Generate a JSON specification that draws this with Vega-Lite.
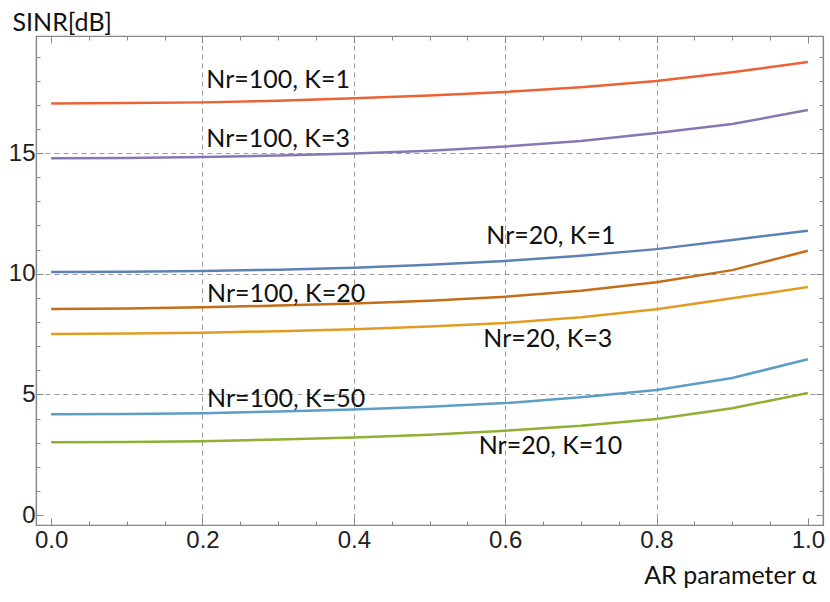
{
  "$schema": "https://vega.github.io/schema/vega-lite/v6.json",
  "description": "SINR versus AR parameter for several Nr and K settings.",
  "width": 787,
  "height": 489,
  "autosize": {"type": "none"},
  "padding": {"left": 36, "top": 36, "right": 7, "bottom": 77},
  "background": "white",
  "datasets": {
    "curves": [
      {"series": "Nr=100, K=1", "alpha": 0.0, "sinr": 17.05},
      {"series": "Nr=100, K=1", "alpha": 0.1, "sinr": 17.07},
      {"series": "Nr=100, K=1", "alpha": 0.2, "sinr": 17.1},
      {"series": "Nr=100, K=1", "alpha": 0.3, "sinr": 17.17},
      {"series": "Nr=100, K=1", "alpha": 0.4, "sinr": 17.27},
      {"series": "Nr=100, K=1", "alpha": 0.5, "sinr": 17.38},
      {"series": "Nr=100, K=1", "alpha": 0.6, "sinr": 17.53},
      {"series": "Nr=100, K=1", "alpha": 0.7, "sinr": 17.73},
      {"series": "Nr=100, K=1", "alpha": 0.8, "sinr": 17.99},
      {"series": "Nr=100, K=1", "alpha": 0.9, "sinr": 18.35},
      {"series": "Nr=100, K=1", "alpha": 1.0, "sinr": 18.77},
      {"series": "Nr=100, K=3", "alpha": 0.0, "sinr": 14.78},
      {"series": "Nr=100, K=3", "alpha": 0.1, "sinr": 14.8},
      {"series": "Nr=100, K=3", "alpha": 0.2, "sinr": 14.84},
      {"series": "Nr=100, K=3", "alpha": 0.3, "sinr": 14.9},
      {"series": "Nr=100, K=3", "alpha": 0.4, "sinr": 14.98},
      {"series": "Nr=100, K=3", "alpha": 0.5, "sinr": 15.1},
      {"series": "Nr=100, K=3", "alpha": 0.6, "sinr": 15.27},
      {"series": "Nr=100, K=3", "alpha": 0.7, "sinr": 15.5},
      {"series": "Nr=100, K=3", "alpha": 0.8, "sinr": 15.83},
      {"series": "Nr=100, K=3", "alpha": 0.9, "sinr": 16.2},
      {"series": "Nr=100, K=3", "alpha": 1.0, "sinr": 16.78},
      {"series": "Nr=20, K=1", "alpha": 0.0, "sinr": 10.07},
      {"series": "Nr=20, K=1", "alpha": 0.1, "sinr": 10.08},
      {"series": "Nr=20, K=1", "alpha": 0.2, "sinr": 10.11},
      {"series": "Nr=20, K=1", "alpha": 0.3, "sinr": 10.17},
      {"series": "Nr=20, K=1", "alpha": 0.4, "sinr": 10.25},
      {"series": "Nr=20, K=1", "alpha": 0.5, "sinr": 10.37},
      {"series": "Nr=20, K=1", "alpha": 0.6, "sinr": 10.53},
      {"series": "Nr=20, K=1", "alpha": 0.7, "sinr": 10.75},
      {"series": "Nr=20, K=1", "alpha": 0.8, "sinr": 11.02},
      {"series": "Nr=20, K=1", "alpha": 0.9, "sinr": 11.4},
      {"series": "Nr=20, K=1", "alpha": 1.0, "sinr": 11.78},
      {"series": "Nr=100, K=20", "alpha": 0.0, "sinr": 8.54},
      {"series": "Nr=100, K=20", "alpha": 0.1, "sinr": 8.56},
      {"series": "Nr=100, K=20", "alpha": 0.2, "sinr": 8.61},
      {"series": "Nr=100, K=20", "alpha": 0.3, "sinr": 8.68},
      {"series": "Nr=100, K=20", "alpha": 0.4, "sinr": 8.77},
      {"series": "Nr=100, K=20", "alpha": 0.5, "sinr": 8.88},
      {"series": "Nr=100, K=20", "alpha": 0.6, "sinr": 9.05},
      {"series": "Nr=100, K=20", "alpha": 0.7, "sinr": 9.3},
      {"series": "Nr=100, K=20", "alpha": 0.8, "sinr": 9.65},
      {"series": "Nr=100, K=20", "alpha": 0.9, "sinr": 10.15},
      {"series": "Nr=100, K=20", "alpha": 1.0, "sinr": 10.95},
      {"series": "Nr=20, K=3", "alpha": 0.0, "sinr": 7.5},
      {"series": "Nr=20, K=3", "alpha": 0.1, "sinr": 7.52},
      {"series": "Nr=20, K=3", "alpha": 0.2, "sinr": 7.56},
      {"series": "Nr=20, K=3", "alpha": 0.3, "sinr": 7.62},
      {"series": "Nr=20, K=3", "alpha": 0.4, "sinr": 7.7},
      {"series": "Nr=20, K=3", "alpha": 0.5, "sinr": 7.81},
      {"series": "Nr=20, K=3", "alpha": 0.6, "sinr": 7.96},
      {"series": "Nr=20, K=3", "alpha": 0.7, "sinr": 8.2},
      {"series": "Nr=20, K=3", "alpha": 0.8, "sinr": 8.53},
      {"series": "Nr=20, K=3", "alpha": 0.9, "sinr": 8.98},
      {"series": "Nr=20, K=3", "alpha": 1.0, "sinr": 9.45},
      {"series": "Nr=100, K=50", "alpha": 0.0, "sinr": 4.18},
      {"series": "Nr=100, K=50", "alpha": 0.1, "sinr": 4.19},
      {"series": "Nr=100, K=50", "alpha": 0.2, "sinr": 4.22},
      {"series": "Nr=100, K=50", "alpha": 0.3, "sinr": 4.29},
      {"series": "Nr=100, K=50", "alpha": 0.4, "sinr": 4.38},
      {"series": "Nr=100, K=50", "alpha": 0.5, "sinr": 4.49},
      {"series": "Nr=100, K=50", "alpha": 0.6, "sinr": 4.64},
      {"series": "Nr=100, K=50", "alpha": 0.7, "sinr": 4.88},
      {"series": "Nr=100, K=50", "alpha": 0.8, "sinr": 5.18},
      {"series": "Nr=100, K=50", "alpha": 0.9, "sinr": 5.68},
      {"series": "Nr=100, K=50", "alpha": 1.0, "sinr": 6.46},
      {"series": "Nr=20, K=10", "alpha": 0.0, "sinr": 3.02},
      {"series": "Nr=20, K=10", "alpha": 0.1, "sinr": 3.03},
      {"series": "Nr=20, K=10", "alpha": 0.2, "sinr": 3.06},
      {"series": "Nr=20, K=10", "alpha": 0.3, "sinr": 3.13},
      {"series": "Nr=20, K=10", "alpha": 0.4, "sinr": 3.22},
      {"series": "Nr=20, K=10", "alpha": 0.5, "sinr": 3.33},
      {"series": "Nr=20, K=10", "alpha": 0.6, "sinr": 3.5},
      {"series": "Nr=20, K=10", "alpha": 0.7, "sinr": 3.7},
      {"series": "Nr=20, K=10", "alpha": 0.8, "sinr": 3.98},
      {"series": "Nr=20, K=10", "alpha": 0.9, "sinr": 4.43},
      {"series": "Nr=20, K=10", "alpha": 1.0, "sinr": 5.06}
    ],
    "labels": [
      {"label": "Nr=100, K=1", "alpha": 0.205, "sinr": 17.7},
      {"label": "Nr=100, K=3", "alpha": 0.205, "sinr": 15.25},
      {"label": "Nr=20, K=1", "alpha": 0.575, "sinr": 11.23},
      {"label": "Nr=100, K=20", "alpha": 0.206, "sinr": 8.83},
      {"label": "Nr=20, K=3", "alpha": 0.571, "sinr": 6.96},
      {"label": "Nr=100, K=50", "alpha": 0.206, "sinr": 4.48},
      {"label": "Nr=20, K=10", "alpha": 0.565, "sinr": 2.53}
    ]
  },
  "layer": [
    {
      "data": {"name": "curves"},
      "mark": {"type": "line", "strokeWidth": 2.5},
      "encoding": {
        "x": {
          "field": "alpha",
          "type": "quantitative",
          "scale": {"domain": [-0.02, 1.02], "nice": false, "zero": false},
          "axis": {
            "orient": "bottom",
            "values": [0, 0.05, 0.1, 0.15, 0.2, 0.25, 0.3, 0.35, 0.4, 0.45, 0.5, 0.55, 0.6, 0.65, 0.7, 0.75, 0.8, 0.85, 0.9, 0.95, 1],
            "labelExpr": "abs(datum.value * 5 - round(datum.value * 5)) < 0.001 ? format(datum.value, '.1f') : ''",
            "tickSize": {"condition": {"test": "abs(datum.value * 5 - round(datum.value * 5)) < 0.001", "value": -7}, "value": -4},
            "grid": true,
            "gridOpacity": {"condition": {"test": "datum.value > 0.01 && datum.value < 0.99 && abs(datum.value * 5 - round(datum.value * 5)) < 0.001", "value": 1}, "value": 0},
            "labelPadding": 10,
            "title": "AR parameter α",
            "titleAnchor": "end",
            "titleAlign": "right",
            "titleBaseline": "alphabetic",
            "titleX": 780,
            "titleY": 58
          }
        },
        "y": {
          "field": "sinr",
          "type": "quantitative",
          "scale": {"domain": [-0.41, 19.85], "nice": false, "zero": false},
          "axis": {
            "orient": "left",
            "values": [0, 1, 2, 3, 4, 5, 6, 7, 8, 9, 10, 11, 12, 13, 14, 15, 16, 17, 18, 19],
            "labelExpr": "datum.value % 5 == 0 ? datum.value : ''",
            "tickSize": {"condition": {"test": "datum.value % 5 == 0", "value": -7}, "value": -4},
            "grid": true,
            "gridOpacity": {"condition": {"test": "datum.value % 5 == 0 && datum.value > 0", "value": 1}, "value": 0},
            "labelPadding": 8,
            "title": "SINR[dB]",
            "titleAngle": 0,
            "titleAlign": "left",
            "titleBaseline": "alphabetic",
            "titleX": -24,
            "titleY": -6
          }
        },
        "color": {
          "field": "series",
          "type": "nominal",
          "scale": {
            "domain": ["Nr=20, K=1", "Nr=20, K=3", "Nr=20, K=10", "Nr=100, K=1", "Nr=100, K=3", "Nr=100, K=20", "Nr=100, K=50"],
            "range": ["#5E81B5", "#E19C24", "#8FB032", "#EB6235", "#8778B3", "#C56E1A", "#5D9EC7"]
          },
          "legend": null
        }
      }
    },
    {
      "data": {"name": "labels"},
      "mark": {"type": "text", "font": "Lato", "fontSize": 25, "align": "left", "baseline": "alphabetic", "color": "#111"},
      "encoding": {
        "x": {
          "field": "alpha",
          "type": "quantitative",
          "axis": {
            "orient": "top",
            "values": [0, 0.05, 0.1, 0.15, 0.2, 0.25, 0.3, 0.35, 0.4, 0.45, 0.5, 0.55, 0.6, 0.65, 0.7, 0.75, 0.8, 0.85, 0.9, 0.95, 1],
            "labels": false,
            "grid": false,
            "tickSize": {"condition": {"test": "abs(datum.value * 5 - round(datum.value * 5)) < 0.001", "value": -7}, "value": -4},
            "title": null
          }
        },
        "y": {
          "field": "sinr",
          "type": "quantitative",
          "axis": {
            "orient": "right",
            "values": [0, 1, 2, 3, 4, 5, 6, 7, 8, 9, 10, 11, 12, 13, 14, 15, 16, 17, 18, 19],
            "labels": false,
            "grid": false,
            "tickSize": {"condition": {"test": "datum.value % 5 == 0", "value": -7}, "value": -4},
            "title": null
          }
        },
        "text": {"field": "label", "type": "nominal"}
      }
    }
  ],
  "resolve": {"axis": {"x": "independent", "y": "independent"}},
  "config": {
    "view": {"stroke": "#888", "strokeWidth": 1.2},
    "axis": {
      "domainColor": "#888",
      "domainWidth": 1.2,
      "tickColor": "#888",
      "tickWidth": 1,
      "labelFont": "Liberation Sans",
      "labelFontSize": 24,
      "labelColor": "#222",
      "labelFlush": false,
      "labelOverlap": false,
      "gridColor": "#999",
      "gridDash": [5, 4],
      "gridWidth": 1,
      "titleFont": "Lato",
      "titleFontSize": 25,
      "titleFontWeight": "normal",
      "titleColor": "#111"
    }
  }
}
